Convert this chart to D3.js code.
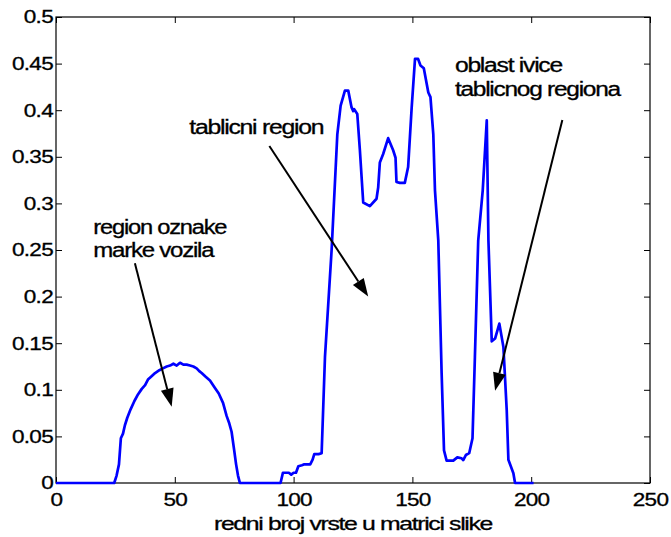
<!DOCTYPE html>
<html>
<head>
<meta charset="utf-8">
<script src="https://cdn.jsdelivr.net/npm/d3@7"></script>
<style>
  body { margin: 0; background: #fff; }
  text { font-family: Arial, "Liberation Sans", sans-serif; fill: #000; stroke: #000; stroke-width: 0.3px; }
</style>
</head>
<body>
<div id="chart"></div>
<script>
var width = 671;
var height = 537;
var margin = {top: 17, right: 21, bottom: 54, left: 56};

// row index in the image matrix vs. value
var rowIndex = [0,24.5,25.5,26.5,27.3,28.2,29,30,31.4,33,34.5,36.1,37.5,38.7,40,41.7,43.5,45,46.6,48,49.4,50.8,52.2,53.6,55,56.4,57.8,59.2,60.3,61.3,63,64.8,66.9,68.5,70.3,71.8,72.8,73.9,75,75.8,76.6,77.4,
  94.5,95.5,97,98,99,100,101,102,103.5,104.5,107,108,108.7,110.5,111.8,113.2,116,118.4,119.8,121.6,123,124.4,125.1,125.5,126.8,127.9,129.3,132.1,134.9,135.6,136.3,137.7,139.8,141.9,142.9,143.3,144.7,146.8,148.2,149.7,151.1,152.4,153.4,154.8,156.7,157.6,158.8,159.5,160.9,162.3,163.3,164.4,167.2,168.9,170.7,171.4,172.5,173.9,175.3,176.3,177.7,179.6,181.3,182,183.4,184.8,186.6,188.3,189.7,190.4,192.5,193.2,201];
var rowValue = [0,0,0.008,0.02,0.048,0.053,0.062,0.07,0.079,0.088,0.095,0.101,0.105,0.111,0.114,0.118,0.121,0.123,0.125,0.126,0.128,0.126,0.129,0.127,0.127,0.126,0.125,0.123,0.12,0.118,0.114,0.11,0.102,0.096,0.086,0.072,0.065,0.055,0.035,0.02,0.008,0,
  0,0.011,0.011,0.011,0.009,0.011,0.011,0.018,0.019,0.02,0.02,0.025,0.031,0.031,0.032,0.135,0.25,0.374,0.405,0.421,0.421,0.403,0.399,0.401,0.396,0.357,0.301,0.297,0.305,0.317,0.344,0.353,0.37,0.357,0.349,0.323,0.322,0.322,0.339,0.403,0.455,0.455,0.448,0.445,0.419,0.414,0.374,0.314,0.26,0.118,0.035,0.024,0.024,0.0275,0.0265,0.0246,0.03,0.032,0.048,0.135,0.26,0.314,0.389,0.26,0.152,0.155,0.171,0.146,0.078,0.025,0.0104,0,0];

var xTicks = [0, 50, 100, 150, 200, 250];
var yTicks = [0, 0.05, 0.1, 0.15, 0.2, 0.25, 0.3, 0.35, 0.4, 0.45, 0.5];

var notes = [
  {lines: ["region oznake", "marke vozila"], x: 15.7, y: 0.275, widths: [133, 120]},
  {lines: ["tablicni region"], x: 56.1, y: 0.382, widths: [134]},
  {lines: ["oblast ivice", "tablicnog regiona"], x: 167.9, y: 0.4485, widths: [107, 165]}
];
var arrows = [
  {x1: 33.2, y1: 0.2357, x2: 48.7, y2: 0.0819},
  {x1: 89.8, y1: 0.3616, x2: 131.4, y2: 0.2},
  {x1: 213.1, y1: 0.3895, x2: 184.8, y2: 0.099}
];
var xLabel = "redni broj vrste u matrici slike";

var svg = d3.select("#chart").append("svg")
    .attr("width", width)
    .attr("height", height);

var x = d3.scaleLinear().domain([0, 250]).range([margin.left, width - margin.right]);
var y = d3.scaleLinear().domain([0, 0.5]).range([height - margin.bottom, margin.top]);

// frame with inward ticks on all sides
function styleAxis(g) {
  g.select(".domain").remove();
  g.selectAll("line").attr("stroke", "#000").attr("stroke-width", 1);
}
svg.append("g").attr("transform", "translate(0," + y(0) + ")")
  .call(d3.axisBottom(x).tickValues(xTicks).tickSize(-6).tickPadding(10).tickFormat(d3.format("d")))
  .call(styleAxis)
  .call(function(g) {
    g.selectAll("text").attr("font-size", 18.5).attr("letter-spacing", "-0.6px")
      .attr("transform", "scale(1.22,1)").attr("dy", "0.72em");
  });
svg.append("g").attr("transform", "translate(0," + y(0.5) + ")")
  .call(d3.axisTop(x).tickValues(xTicks).tickSize(-6).tickFormat(""))
  .call(styleAxis);
svg.append("g").attr("transform", "translate(" + x(0) + ",0)")
  .call(d3.axisLeft(y).tickValues(yTicks).tickSize(-6).tickPadding(3).tickFormat(function(d) { return d3.format("")(+d.toFixed(2)); }))
  .call(styleAxis)
  .call(function(g) {
    g.selectAll("text").attr("font-size", 18.5).attr("letter-spacing", "-0.6px")
      .attr("transform", "scale(1.22,1)").attr("x", -2.5);
  });
svg.append("g").attr("transform", "translate(" + x(250) + ",0)")
  .call(d3.axisRight(y).tickValues(yTicks).tickSize(-6).tickFormat(""))
  .call(styleAxis);

svg.append("rect")
  .attr("x", x(0)).attr("y", y(0.5))
  .attr("width", x(250) - x(0)).attr("height", y(0) - y(0.5))
  .attr("fill", "none").attr("stroke", "#000").attr("stroke-width", 1.2);

var line = d3.line()
  .x(function(d, i) { return x(rowIndex[i]); })
  .y(function(d) { return y(d); });

svg.append("path")
  .datum(rowValue)
  .attr("d", line)
  .attr("fill", "none")
  .attr("stroke", "#0000ff")
  .attr("stroke-width", 2.7)
  .attr("stroke-linejoin", "round");

// annotation arrows
arrows.forEach(function(a) {
  var x1 = x(a.x1), y1 = y(a.y1), x2 = x(a.x2), y2 = y(a.y2);
  var ang = Math.atan2(y2 - y1, x2 - x1);
  var len = 18, hw = 6.5;
  var bx = x2 - len * Math.cos(ang), by = y2 - len * Math.sin(ang);
  svg.append("line")
    .attr("x1", x1).attr("y1", y1).attr("x2", bx).attr("y2", by)
    .attr("stroke", "#000").attr("stroke-width", 2);
  var pts = [
    [x2, y2],
    [bx + hw * Math.sin(ang), by - hw * Math.cos(ang)],
    [bx - hw * Math.sin(ang), by + hw * Math.cos(ang)]
  ];
  svg.append("path")
    .attr("d", "M" + pts.map(function(p) { return p.join(","); }).join("L") + "Z")
    .attr("fill", "#000");
});

notes.forEach(function(n) {
  n.lines.forEach(function(s, i) {
    svg.append("text")
      .attr("x", x(n.x))
      .attr("y", y(n.y) + i * 23.5)
      .attr("dy", "0.36em")
      .attr("font-size", 19.5)
      .attr("letter-spacing", "-1px")
      .attr("textLength", n.widths[i])
      .attr("lengthAdjust", "spacingAndGlyphs")
      .text(s);
  });
});

svg.append("text")
  .attr("x", (x(0) + x(250)) / 2 - 139)
  .attr("y", 530)
  .attr("font-size", 18.5)
  .attr("letter-spacing", "-1px")
  .attr("textLength", 278)
  .attr("lengthAdjust", "spacingAndGlyphs")
  .text(xLabel);
</script>
</body>
</html>
